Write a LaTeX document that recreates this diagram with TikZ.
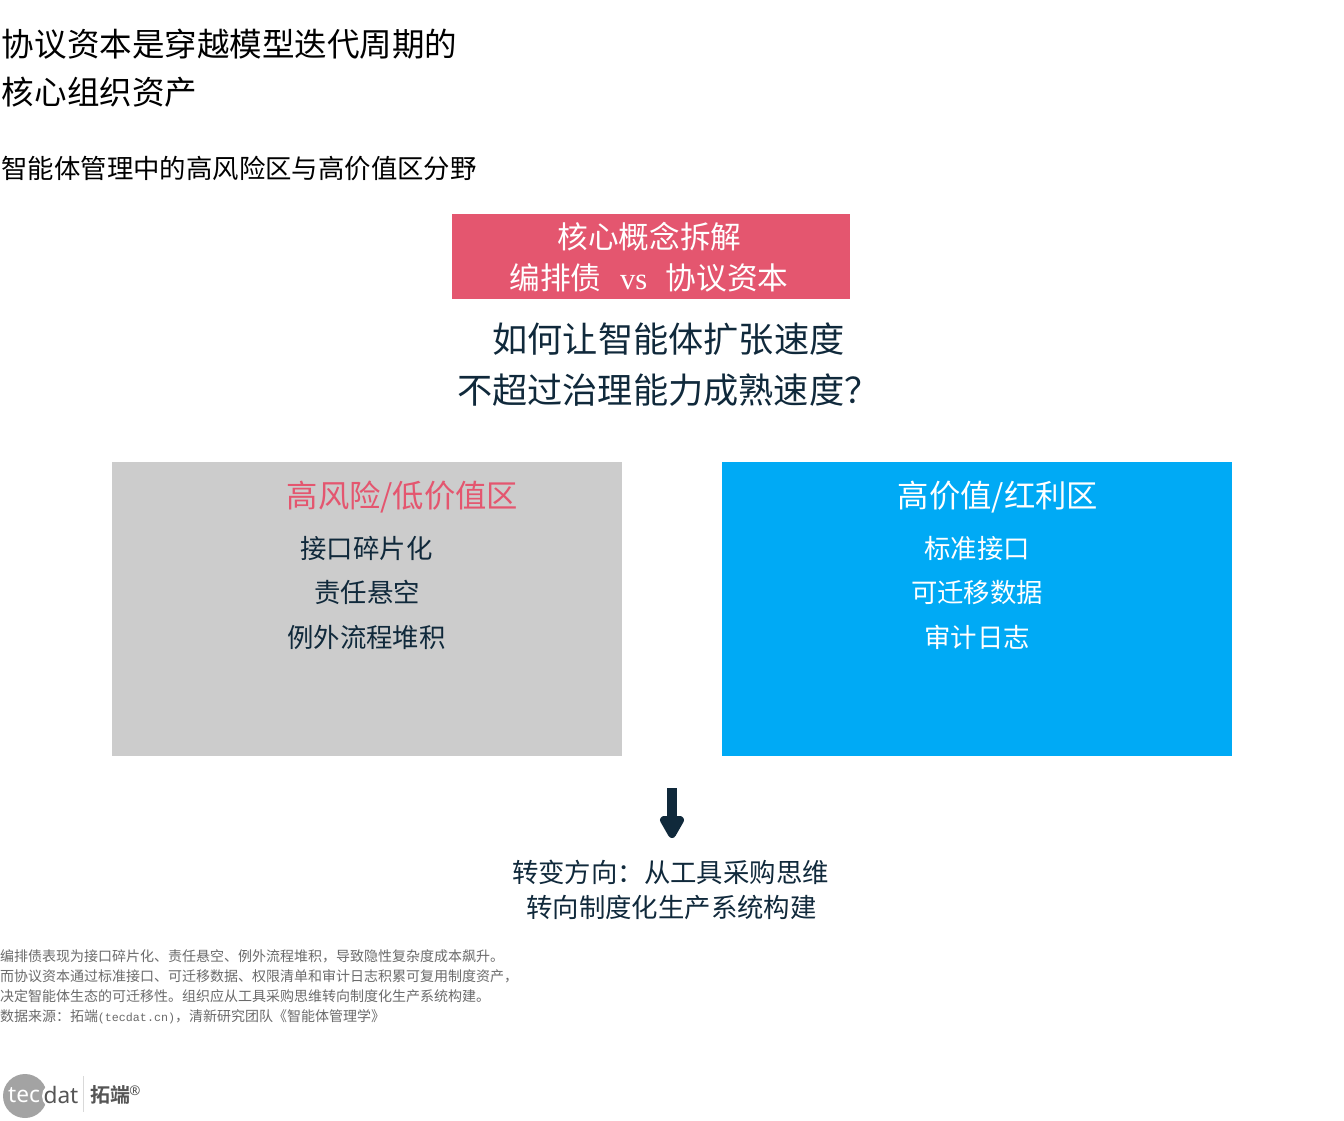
\documentclass[tikz,border=0pt]{standalone}
\usepackage{fontspec}
\usetikzlibrary{arrows.meta}
\setmainfont{Noto Sans CJK SC}[BoldFont={Noto Sans CJK SC Bold}]
\newfontfamily\latinserif{Liberation Serif}
\newfontfamily\latinmono{Liberation Mono}
\newfontfamily\logosans{Noto Sans}
\newcommand{\fwcomma}{\char"FF0C\relax}
\newcommand{\fwcolon}{\char"FF1A\relax}
\newcommand{\fwquery}{\char"FF1F\relax}
\definecolor{inkdark}{HTML}{10293B}
\definecolor{rosered}{HTML}{E4566F}
\definecolor{skyblue}{HTML}{00AAF5}
\definecolor{panelgray}{HTML}{CCCCCC}
\definecolor{notegray}{HTML}{6A6A6A}
\definecolor{logogray}{HTML}{A3A3A3}
\definecolor{logodark}{HTML}{555555}
\tikzset{
  x=0.75pt,y=-0.75pt,
  txt/.style={inner sep=0pt,outer sep=0pt,anchor=center,text=inkdark},
  lefttxt/.style={inner sep=0pt,outer sep=0pt,anchor=west,text=black},
  note/.style={inner sep=0pt,outer sep=0pt,anchor=west,text=notegray,font=\fontsize{10.5pt}{12pt}\selectfont},
  panel/.style={inner sep=0pt,outer sep=0pt,anchor=north west},
}
\begin{document}
\begin{tikzpicture}
\useasboundingbox (0,0) rectangle (1344,1120);
% titles
\node[lefttxt,font=\fontsize{24.4pt}{28pt}\selectfont] (title1) at (2,44) {协议资本是穿越模型迭代周期的};
\node[lefttxt,font=\fontsize{24.4pt}{28pt}\selectfont] (title2) at (2,92) {核心组织资产};
\node[lefttxt,font=\fontsize{19.8pt}{24pt}\selectfont] (subtitle) at (1.5,168) {智能体管理中的高风险区与高价值区分野};
% red banner
\node[panel,fill=rosered,minimum width=398*0.75pt,minimum height=85*0.75pt] (banner) at (452,214) {};
\node[txt,text=white,font=\fontsize{23pt}{28pt}\selectfont] (banner1) at (649.5,237) {核心概念拆解};
\node[txt,text=white,font=\fontsize{23pt}{28pt}\selectfont] (banner2) at (649,278) {编排债\hspace{0.6em}{\latinserif vs}\hspace{0.6em}协议资本};
% question
\node[txt,font=\fontsize{26.4pt}{32pt}\selectfont,anchor=west] (q1) at (492.5,339.5) {如何让智能体扩张速度};
\node[txt,font=\fontsize{26.4pt}{32pt}\selectfont,anchor=west] (q2) at (457,390) {不超过治理能力成熟速度\fwquery};
% panels
\node[panel,fill=panelgray,minimum width=510*0.75pt,minimum height=294*0.75pt] (leftpanel) at (112,462) {};
\node[panel,fill=skyblue,minimum width=510*0.75pt,minimum height=294*0.75pt] (rightpanel) at (722,462) {};
\node[txt,text=rosered,font=\fontsize{23.5pt}{28pt}\selectfont] (lefthead) at (402.5,497) {高风险/低价值区};
\node[txt,text=white,font=\fontsize{23.5pt}{28pt}\selectfont] (righthead) at (998,497) {高价值/红利区};
\node[txt,font=\fontsize{19.8pt}{24pt}\selectfont] (l1) at (366.5,548) {接口碎片化};
\node[txt,font=\fontsize{19.8pt}{24pt}\selectfont] (l2) at (367,592) {责任悬空};
\node[txt,font=\fontsize{19.8pt}{24pt}\selectfont] (l3) at (366.5,637) {例外流程堆积};
\node[txt,text=white,font=\fontsize{19.8pt}{24pt}\selectfont] (r1) at (977,548) {标准接口};
\node[txt,text=white,font=\fontsize{19.8pt}{24pt}\selectfont] (r2) at (977,592.5) {可迁移数据};
\node[txt,text=white,font=\fontsize{19.8pt}{24pt}\selectfont] (r3) at (977,637) {审计日志};
% arrow
\coordinate (arrowtop) at (672,788);
\coordinate (arrowshaft) at (672,822);
\fill[inkdark,draw=inkdark,line width=6pt,line join=round] (664,820) -- (680,820) -- (672,834) -- cycle;
\draw[inkdark,line width=7.5pt] (arrowtop) -- (arrowshaft);
% conclusion
\node[txt,font=\fontsize{19.8pt}{24pt}\selectfont,anchor=west] (c1) at (512,872) {转变方向\fwcolon 从工具采购思维};
\node[txt,font=\fontsize{19.8pt}{24pt}\selectfont] (c2) at (671.5,907) {转向制度化生产系统构建};
% notes
\node[note] (n1) at (0,956.5) {编排债表现为接口碎片化、责任悬空、例外流程堆积\fwcomma 导致隐性复杂度成本飙升。};
\node[note] (n2) at (0,976.5) {而协议资本通过标准接口、可迁移数据、权限清单和审计日志积累可复用制度资产\fwcomma};
\node[note] (n3) at (0,996.5) {决定智能体生态的可迁移性。组织应从工具采购思维转向制度化生产系统构建。};
\node[note] (n4) at (0,1016.5) {数据来源\fwcolon 拓端{\latinmono\fontsize{8.75pt}{12pt}\selectfont (tecdat.cn)}\fwcomma 清新研究团队《智能体管理学》};
% logo
\fill[logogray] (25,1096) circle[radius=22];
\fill[white] (55,1096) circle[radius=13];
\node[inner sep=0pt,anchor=center,text=white,font=\logosans\fontsize{17pt}{20pt}\selectfont] (logotec) at (24,1095) {tec};
\node[inner sep=0pt,anchor=center,text=logodark,font=\logosans\fontsize{17pt}{20pt}\selectfont] (logodat) at (61,1095) {dat};
\draw[line width=0.75pt,color=black!15] (83.5,1076) -- (83.5,1112);
\node[inner sep=0pt,anchor=center,text=logodark,font=\bfseries\fontsize{15pt}{18pt}\selectfont] (logocn) at (110,1095) {拓端};
\node[inner sep=0pt,anchor=center,text=logodark,font=\logosans\fontsize{10pt}{12pt}\selectfont] (logor) at (135,1091) {®};
\end{tikzpicture}
\end{document}
